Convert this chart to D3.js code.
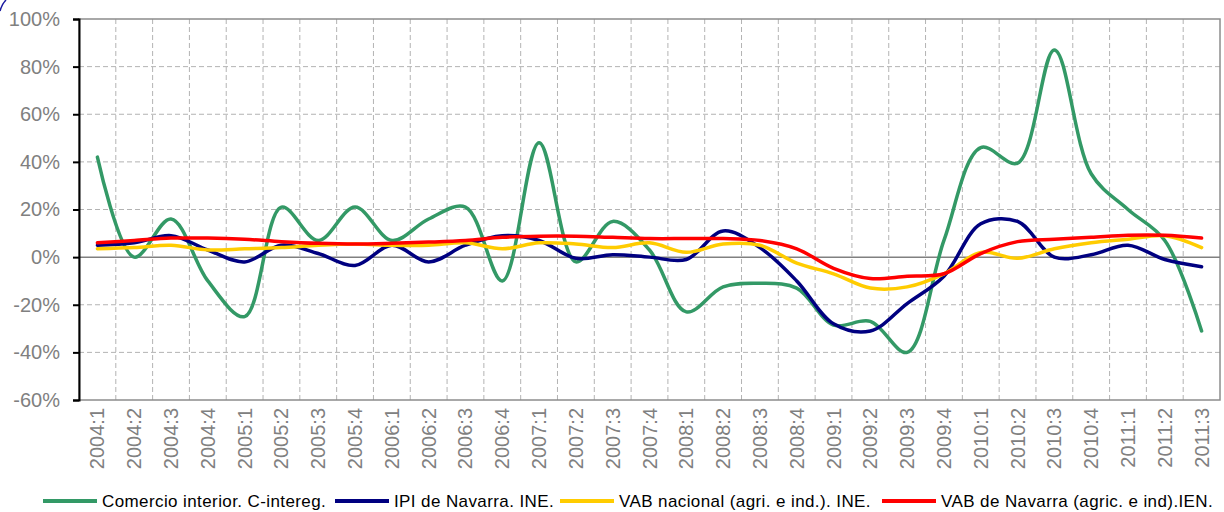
<!DOCTYPE html>
<html>
<head>
<meta charset="utf-8">
<script src="https://cdn.jsdelivr.net/npm/d3@7"></script>
<style>
  body { margin: 0; background: #fff; }
  svg { display: block; font-family: "Liberation Sans", Arial, sans-serif; }
</style>
</head>
<body>
<svg id="chart" width="1224" height="512"></svg>
<script>
// quarters shown on the x axis
const quarters = [
  "2004:1","2004:2","2004:3","2004:4","2005:1","2005:2","2005:3","2005:4",
  "2006:1","2006:2","2006:3","2006:4","2007:1","2007:2","2007:3","2007:4",
  "2008:1","2008:2","2008:3","2008:4","2009:1","2009:2","2009:3","2009:4",
  "2010:1","2010:2","2010:3","2010:4","2011:1","2011:2","2011:3"
];

// year-on-year change, %
const comercioInterior = [42, 0, 16, -10, -25, 21, 7, 21, 7, 16, 21, -10, 48, -2, 15, 3,
  -23, -12.5, -11, -13, -28.5, -27, -40, 7, 46, 39.5, 87, 35, 20, 7, -31];
const ipiNavarra = [5, 6, 9, 3, -2, 5, 1.5, -3.5, 5, -2, 5, 9, 7, -0.5, 1, 0,
  -1, 11, 4, -10, -28, -31, -19.5, -8, 14, 15, 0, 1, 5, -1, -4];
const vabNacional = [3.5, 4, 5, 3, 3.5, 4, 5, 5.5, 5, 5, 6, 3.5, 6, 5.5, 4, 6,
  2, 5.5, 5, -2.5, -7, -13, -12.5, -7, 2, -0.5, 3.5, 6, 7.5, 9, 4];
const vabNavarra = [6, 7, 8, 8, 7.5, 6.5, 5.8, 5.5, 5.8, 6.3, 7, 8.3, 8.8, 8.8, 8.3, 7.8,
  7.8, 7.8, 7, 3.5, -4.7, -9, -8, -7, 1.5, 6.5, 7.5, 8.3, 9.2, 9.2, 8];

const yTicks = [-60, -40, -20, 0, 20, 40, 60, 80, 100];

const series = [
  { name: "Comercio interior. C-intereg.", values: comercioInterior, color: "#339966" },
  { name: "IPI de Navarra. INE.", values: ipiNavarra, color: "#000080" },
  { name: "VAB nacional (agri. e ind.). INE.", values: vabNacional, color: "#FFCC00" },
  { name: "VAB de Navarra (agric. e ind).IEN.", values: vabNavarra, color: "#FF0000" }
];

const margin = { top: 19, right: 4, bottom: 112, left: 79 };
const width = 1224, height = 512;
const innerW = width - margin.left - margin.right;
const innerH = height - margin.top - margin.bottom;

const svg = d3.select("#chart");

// little corner arc left over from the original frame
svg.append("path")
  .attr("d", "M0,11 Q2,4 6,0")
  .attr("fill", "none")
  .attr("stroke", "#1a1aa0")
  .attr("stroke-width", 1.5);

const g = svg.append("g").attr("transform", `translate(${margin.left},${margin.top})`);

const x = d3.scaleBand().domain(quarters).range([0, innerW]);
const y = d3.scaleLinear().domain([-60, 100]).range([innerH, 0]);

// horizontal dashed grid
g.append("g")
  .selectAll("line")
  .data(yTicks.filter(d => d !== 0 && d !== -60 && d !== 100))
  .join("line")
  .attr("x1", 0).attr("x2", innerW)
  .attr("y1", d => y(d)).attr("y2", d => y(d))
  .attr("stroke", "#b3b3b3")
  .attr("stroke-dasharray", "5,3");

// vertical dashed grid at band edges
g.append("g")
  .selectAll("line")
  .data(quarters.slice(1))
  .join("line")
  .attr("x1", d => x(d)).attr("x2", d => x(d))
  .attr("y1", 0).attr("y2", innerH)
  .attr("stroke", "#b3b3b3")
  .attr("stroke-dasharray", "5,3");

// frame
g.append("rect")
  .attr("width", innerW).attr("height", innerH)
  .attr("fill", "none")
  .attr("stroke", "#8c8c8c")
  .attr("stroke-width", 1.5);

// zero line
g.append("line")
  .attr("x1", 0).attr("x2", innerW)
  .attr("y1", y(0)).attr("y2", y(0))
  .attr("stroke", "#808080")
  .attr("stroke-width", 1.5);

// y axis
const yAxis = g.append("g")
  .call(d3.axisLeft(y).tickValues(yTicks).tickSize(6).tickPadding(13).tickFormat(d => d + "%"));
yAxis.select(".domain").attr("stroke", "#000").attr("stroke-width", 2);
yAxis.selectAll(".tick line").attr("stroke", "#000").attr("stroke-width", 2);
yAxis.selectAll(".tick text")
  .attr("fill", "#808080")
  .style("font-size", "20px")
  .attr("font-family", "Liberation Sans, Arial, sans-serif");

// x axis labels (rotated)
const xAxis = g.append("g")
  .attr("transform", `translate(0,${innerH})`)
  .call(d3.axisBottom(x).tickSize(0).tickPadding(0));
xAxis.select(".domain").remove();
xAxis.selectAll(".tick text")
  .attr("transform", "rotate(-90)")
  .attr("text-anchor", "end")
  .attr("x", -8)
  .attr("y", 0)
  .attr("dy", "0.35em")
  .attr("fill", "#808080")
  .style("font-size", "20px")
  .attr("font-family", "Liberation Sans, Arial, sans-serif");

// lines
const line = d3.line()
  .x((d, i) => x(quarters[i]) + x.bandwidth() / 2)
  .y(d => y(d))
  .curve(d3.curveCatmullRom.alpha(0.5));

g.append("g")
  .selectAll("path")
  .data(series)
  .join("path")
  .attr("d", d => line(d.values))
  .attr("fill", "none")
  .attr("stroke", d => d.color)
  .attr("stroke-width", 3.5)
  .attr("stroke-linejoin", "round")
  .attr("stroke-linecap", "round");

// legend
const legendX = [43, 335, 560, 882];
const legend = svg.append("g").attr("transform", "translate(0,501)");
const item = legend.selectAll("g")
  .data(series)
  .join("g")
  .attr("transform", (d, i) => `translate(${legendX[i]},0)`);
item.append("line")
  .attr("x1", 0).attr("x2", 54)
  .attr("stroke", d => d.color)
  .attr("stroke-width", 4);
item.append("text")
  .attr("x", 59)
  .attr("dy", "0.35em")
  .attr("fill", "#000")
  .style("font-size", "17px")
  .style("letter-spacing", "0.4px")
  .text(d => d.name);
</script>
</body>
</html>
